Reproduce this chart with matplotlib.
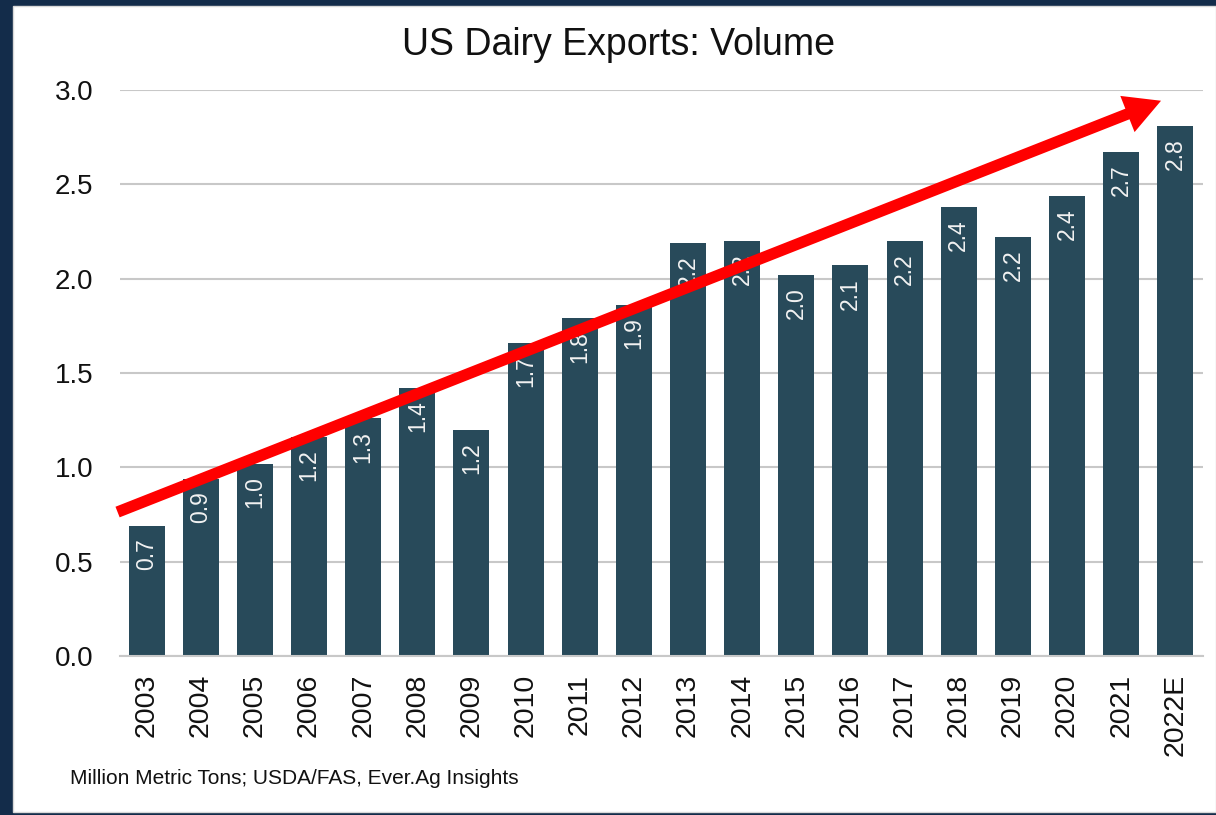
import matplotlib
matplotlib.use("Agg")
import matplotlib.pyplot as plt
from matplotlib.patches import Rectangle, FancyArrowPatch

# data (million metric tons)
years = ['2003', '2004', '2005', '2006', '2007', '2008', '2009', '2010', '2011', '2012',
         '2013', '2014', '2015', '2016', '2017', '2018', '2019', '2020', '2021', '2022E']
volume = [0.69, 0.94, 1.02, 1.16, 1.26, 1.42, 1.20, 1.66, 1.79, 1.86,
          2.19, 2.20, 2.02, 2.07, 2.20, 2.38, 2.22, 2.44, 2.67, 2.81]

# trend arrow end points (bar index, value)
arrow_start = (-0.535, 0.763)
arrow_end = (18.735, 2.943)

NAVY = '#132c4a'
BAR = '#284a5a'
GRID = '#c8c8c8'

plt.rcParams['font.family'] = ['Liberation Sans', 'DejaVu Sans']

fig = plt.figure(figsize=(12.16, 8.15), dpi=100, facecolor=NAVY)
# white panel behind everything
fig.patches.append(Rectangle((13 / 1216, 3 / 815), 1 - 13 / 1216, 1 - 9 / 815,
                             transform=fig.transFigure, facecolor='white',
                             edgecolor='#d8d8d8', lw=1, zorder=-10))

ax = fig.add_axes([120 / 1216, (815 - 656) / 815, (1203 - 120) / 1216, (656 - 90) / 815])
ax.set_facecolor('none')

x = range(len(years))
bars = ax.bar(x, volume, width=0.665, color=BAR, zorder=2)

for i, v in enumerate(volume):
    ax.annotate(f'{v:.1f}', xy=(i, v), xytext=(0, -9), textcoords='offset points',
                rotation=90, ha='center', va='top', color='#f2f2f2', fontsize=16.5, zorder=3)

ax.set_xlim(-0.49, 19.51)
ax.set_ylim(0, 3.0)
ax.set_yticks([0, 0.5, 1.0, 1.5, 2.0, 2.5, 3.0])
ax.set_yticklabels(['0.0', '0.5', '1.0', '1.5', '2.0', '2.5', '3.0'])
ax.set_xticks(list(x))
ax.set_xticklabels(years, rotation=90)
ax.tick_params(axis='y', length=0, pad=19, labelsize=20, labelcolor='#111111')
ax.tick_params(axis='x', length=0, pad=13, labelsize=20.5, labelcolor='#111111')
ax.yaxis.grid(True, color=GRID, lw=1.5, zorder=1)
ax.set_axisbelow(True)
for s in ['top', 'right', 'left']:
    ax.spines[s].set_visible(False)
ax.spines['bottom'].set_color(GRID)
ax.spines['bottom'].set_linewidth(1.5)

arrow = FancyArrowPatch(arrow_start, arrow_end,
                        arrowstyle='simple,head_length=26,head_width=28,tail_width=8.2',
                        mutation_scale=1, color='#ff0000', lw=0, shrinkA=0, shrinkB=0,
                        clip_on=False, zorder=5)
ax.add_patch(arrow)

fig.text(618 / 1216, 1 - 45 / 815, 'US Dairy Exports: Volume', ha='center', va='center',
         fontsize=27, color='#111111')
fig.text(70 / 1216, 1 - 778 / 815, 'Million Metric Tons; USDA/FAS, Ever.Ag Insights',
         ha='left', va='center', fontsize=15, color='#111111')

fig.savefig('out.png', dpi=100, facecolor=NAVY)
